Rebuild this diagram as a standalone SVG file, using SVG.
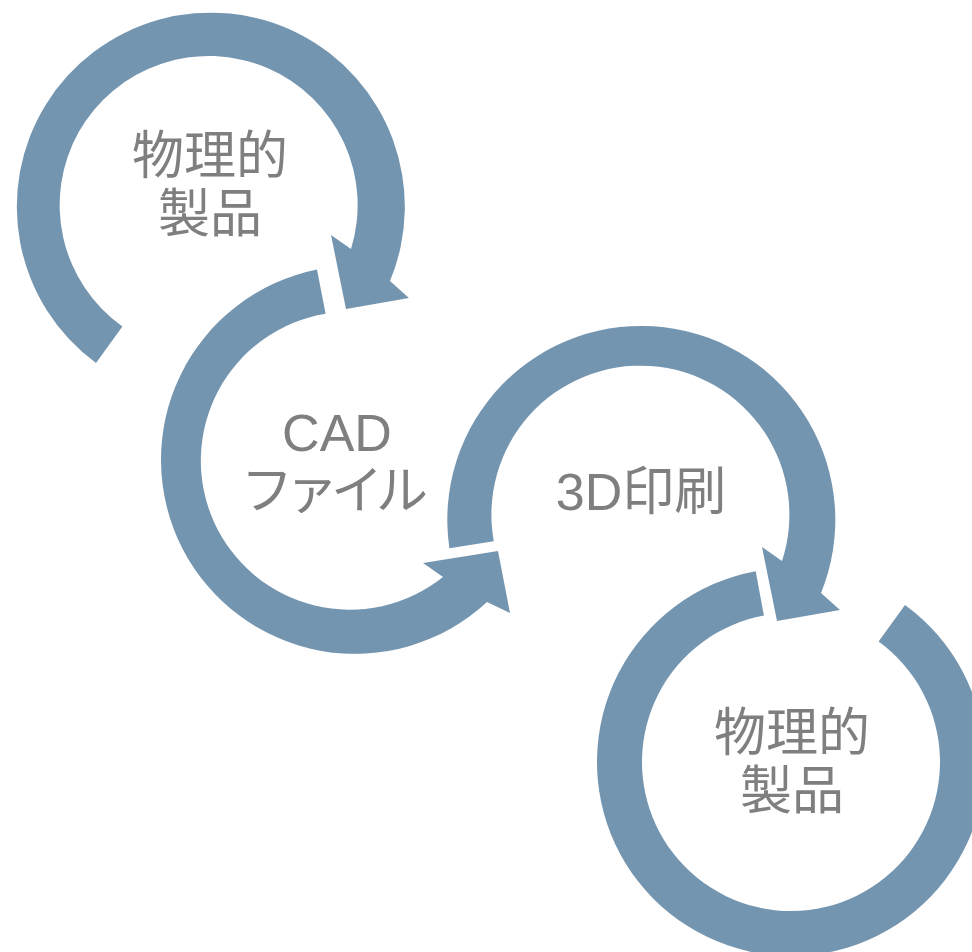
<svg xmlns="http://www.w3.org/2000/svg" width="972" height="952" viewBox="0 0 972 952">
<style>
.ring{fill:#7495B0;stroke:none}
.lbl{font-family:"Liberation Sans","Noto Sans CJK JP",sans-serif;font-size:52px;fill:#7F7F7F;text-anchor:middle}
.kana{letter-spacing:-7px}
</style>
<rect width="972" height="952" fill="#FFFFFF"/>
<g id="node-1">
<path class="ring" d="M96,363 A194 194 0 1 1 390,281 L409,298 L346,309 L331,235 L351,249 A149 149 0 1 0 122.4,326.5 Z"/>
<text class="lbl" x="210" y="174">物理的</text>
<text class="lbl" x="210" y="232">製品</text>
</g>
<g id="node-2">
<path class="ring" d="M317,269.6 A194 194 0 1 0 487,602 L510,613 L498,551 L423,563 L443,577 A149 149 0 1 1 325.6,313.7 Z"/>
<text class="lbl" x="337" y="451">CAD</text>
<text class="lbl kana" x="331" y="509">ファイル</text>
</g>
<g id="node-3">
<path class="ring" d="M449.4,548.3 A194 194 0 1 1 821,593 L840,610 L777,621 L762,547 L782,561 A149 149 0 1 0 493.8,541.3 Z"/>
<text class="lbl" x="641" y="510">3D印刷</text>
</g>
<g id="node-4">
<path class="ring" d="M755.7,571.2 A194 194 0 1 0 905,605 L878.6,641.5 A149 149 0 1 1 763.9,615.5 Z"/>
<text class="lbl" x="792" y="751">物理的</text>
<text class="lbl" x="792" y="809">製品</text>
</g>
<g id="connectors"></g>
</svg>
